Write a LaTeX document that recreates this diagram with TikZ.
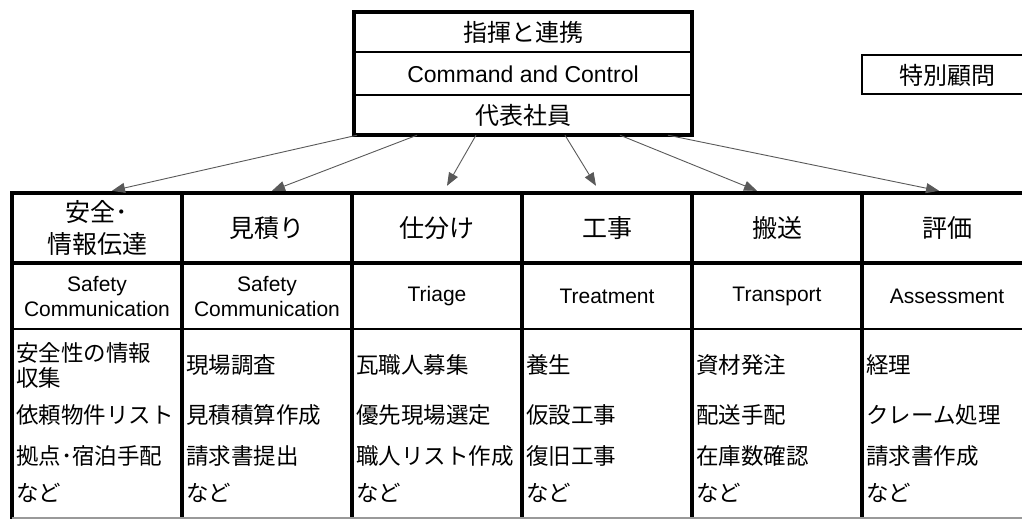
\documentclass[tikz,border=0pt]{standalone}
\usepackage{fontspec}
\setmainfont{Noto Sans CJK JP}
\newfontfamily\latfont{Liberation Sans}
\usetikzlibrary{arrows.meta}
\tikzset{
thickrule/.style={line width=3.6pt},
thinrule/.style={line width=1.8pt},
arr/.style={draw=black!65, line width=0.9pt, -{Triangle[length=13pt,width=10pt]}},
ttl/.style={font=\fontsize{24}{28}\selectfont},
hd/.style={minimum width=170pt, minimum height=70pt, align=center, font=\fontsize{25}{32}\selectfont},
en/.style={align=center, font=\latfont\fontsize{21}{25}\selectfont},
itm/.style={anchor=west, align=left, inner sep=0pt, font=\fontsize{22.5}{25}\selectfont}
}
\begin{document}
\begin{tikzpicture}[x=1pt,y=-1pt]
\useasboundingbox (0,0) rectangle (1022,519);

\node[minimum width=338pt, minimum height=123pt] (cmd) at (523,73.5) {};
\draw[thickrule] (cmd.south west) rectangle (cmd.north east);
\draw[thinrule] (354,52) -- (692,52);
\draw[thinrule] (354,95) -- (692,95);
\node[ttl] (cmdjp) at (523,32) {指揮と連携};
\node[en, font=\latfont\fontsize{23}{25}\selectfont] (cmden) at (523,74) {Command and Control};
\node[ttl] (cmdrep) at (523,115) {代表社員};

\draw[line width=1.8pt] (1032,55) -- (862,55) -- (862,94);
\draw[line width=2.8pt] (861,94) -- (1032,94);
\node[ttl] (adv) at (947,75) {特別顧問};

\foreach \x in {12,182,...,862}
{
\draw[thickrule] (\x,191.2) -- (\x,520);
}
\draw[thickrule] (10.2,193) -- (1032,193);
\draw[thickrule] (10.2,263) -- (1032,263);
\draw[line width=2.3pt] (10.2,329) -- (1032,329);
\draw[line width=1.4pt, black!40] (12,518) -- (1032,518);

\node[hd] (hd1) at (97,228) {安全･\\情報伝達};
\node[hd] (hd2) at (267,228) {見積り};
\node[hd] (hd3) at (437,228) {仕分け};
\node[hd] (hd4) at (607,228) {工事};
\node[hd] (hd5) at (777,228) {搬送};
\node[hd] (hd6) at (947,228) {評価};

\draw[arr] ([xshift=-166pt]cmd.south) -- ([xshift=15pt,yshift=2pt]hd1.north);
\draw[arr] ([xshift=-106pt]cmd.south) -- ([xshift=5pt,yshift=2pt]hd2.north);
\draw[arr] ([xshift=-47pt]cmd.south) -- ([xshift=10pt,yshift=7pt]hd3.north);
\draw[arr] ([xshift=42pt]cmd.south) -- ([xshift=-11pt,yshift=7pt]hd4.north);
\draw[arr] ([xshift=97pt]cmd.south) -- ([xshift=-20pt,yshift=2pt]hd5.north);
\draw[arr] ([xshift=145pt]cmd.south) -- ([xshift=-8pt,yshift=2pt]hd6.north);

\node[en] (en1) at (97,297) {Safety\\Communication};
\node[en] (en2) at (267,297) {Safety\\Communication};
\node[en] (en3) at (437,296) {Triage};
\node[en] (en4) at (607,296) {Treatment};
\node[en] (en5) at (777,296) {Transport};
\node[en] (en6) at (947,296) {Assessment};

\node[itm] (c1a) at (16,365) {安全性の情報\\収集};
\node[itm] (c1b) at (16,415) {依頼物件リスト};
\node[itm] (c1c) at (16,456) {拠点･宿泊手配};
\node[itm] (c1d) at (16,493) {など};

\node[itm] (c2a) at (186,365) {現場調査};
\node[itm] (c2b) at (186,415) {見積積算作成};
\node[itm] (c2c) at (186,456) {請求書提出};
\node[itm] (c2d) at (186,493) {など};

\node[itm] (c3a) at (356,365) {瓦職人募集};
\node[itm] (c3b) at (356,415) {優先現場選定};
\node[itm] (c3c) at (356,456) {職人リスト作成};
\node[itm] (c3d) at (356,493) {など};

\node[itm] (c4a) at (526,365) {養生};
\node[itm] (c4b) at (526,415) {仮設工事};
\node[itm] (c4c) at (526,456) {復旧工事};
\node[itm] (c4d) at (526,493) {など};

\node[itm] (c5a) at (696,365) {資材発注};
\node[itm] (c5b) at (696,415) {配送手配};
\node[itm] (c5c) at (696,456) {在庫数確認};
\node[itm] (c5d) at (696,493) {など};

\node[itm] (c6a) at (866,365) {経理};
\node[itm] (c6b) at (866,415) {クレーム処理};
\node[itm] (c6c) at (866,456) {請求書作成};
\node[itm] (c6d) at (866,493) {など};
\end{tikzpicture}
\end{document}
